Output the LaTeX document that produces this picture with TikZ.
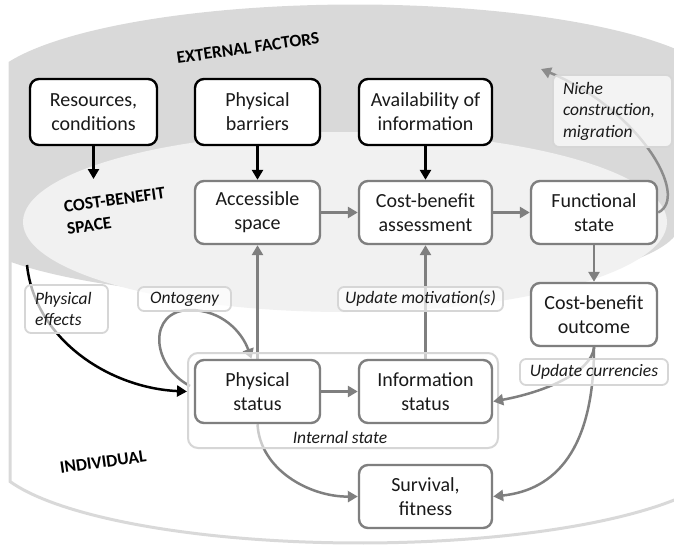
\documentclass[tikz,border=0pt]{standalone}
\usepackage{fontspec}
\setmainfont{Carlito}
\usetikzlibrary{arrows.meta}
\pgfdeclarelayer{back}
\pgfdeclarelayer{mid}
\pgfsetlayers{back,mid,main}
\definecolor{outerg}{HTML}{D9D9D9}
\definecolor{innerg}{HTML}{F1F1F1}
\definecolor{boxg}{HTML}{7F7F7F}
\definecolor{lblg}{HTML}{D6D6D6}
\definecolor{txt}{HTML}{1A1A1A}
\begin{document}
\begin{tikzpicture}[x=1pt,y=-1pt,
  bbox/.style={draw=black, line width=2.4pt, fill=white, rounded corners=9pt, align=center,
    font=\fontsize{20}{24}\selectfont, text=txt, inner sep=0pt, minimum height=66},
  gbox/.style={draw=boxg, line width=2.4pt, fill=white, rounded corners=9pt, align=center,
    font=\fontsize{20}{24}\selectfont, text=txt, inner sep=0pt, minimum height=63},
  lbl/.style={draw=lblg, line width=1.8pt, rounded corners=6pt, fill=white, fill opacity=0.7,
    text opacity=1, text=txt, font=\itshape\fontsize{17.5}{21.5}\selectfont, inner sep=0pt},
  bold/.style={font=\bfseries\fontsize{17.5}{22}\selectfont, text=black, rotate=8, inner sep=0pt},
  garrow/.style={draw=boxg, line width=2.5pt, -{Triangle[length=10pt,width=11pt]}},
  barrow/.style={draw=black, line width=2.5pt, -{Triangle[length=10pt,width=11pt]}}
]
\useasboundingbox (0,0) rectangle (674,546);

% ---------------- main boxes ----------------
\node[bbox, minimum width=127] (res) at (93.5,112) {Resources,\\conditions};
\node[bbox, minimum width=125] (bar) at (257.5,112) {Physical\\barriers};
\node[bbox, minimum width=133] (avail) at (425.5,112) {Availability of\\information};
\node[gbox, minimum width=125] (acc) at (257.5,212.5) {Accessible\\space};
\node[gbox, minimum width=133] (cba) at (425.5,212.5) {Cost-benefit\\assessment};
\node[gbox, minimum width=126] (func) at (594,212.5) {Functional\\state};
\node[gbox, minimum width=126] (outc) at (594,314.5) {Cost-benefit\\outcome};
\node[gbox, minimum width=125] (phys) at (257.5,391.5) {Physical\\status};
\node[gbox, minimum width=133] (info) at (425.5,391.5) {Information\\status};
\node[gbox, minimum width=133] (surv) at (425.5,496.5) {Survival,\\fitness};

\coordinate (resend) at (93.5,179);
\coordinate (pestart) at (27,265);
\coordinate (ontostart) at (190,386);
\coordinate (nicheend) at (541,69);

% ---------------- background ----------------
\begin{pgfonlayer}{back}
\path[fill=white, draw=outerg, line width=3pt]
  plot[domain=21.2:158.8, samples=80] ({355-370*cos(\x)},{95-89*sin(\x)})
  -- (700,488)
  -- plot[domain=23.2:161, samples=80] ({360+370*cos(\x)},{452+91*sin(\x)})
  -- cycle;
\begin{scope}
\clip plot[domain=21.2:158.8, samples=80] ({355-370*cos(\x)},{95-89*sin(\x)})
  -- (700,488)
  -- plot[domain=23.2:161, samples=80] ({360+370*cos(\x)},{452+91*sin(\x)})
  -- cycle;
\fill[outerg] (0,0) rectangle (700,223);
\fill[outerg] (320,223) ellipse [x radius=360, y radius=76];
\end{scope}
\fill[innerg] (345,222) ellipse [x radius=322, y radius=90];

% arrows that pass under the internal-state frame
\draw[garrow] (phys.north) -- (acc.south);
\draw[garrow] (info.north) -- (cba.south);
\draw[garrow] (phys.south) .. controls (260,470) and (310,497) .. (surv.west);
\draw[garrow] (ontostart) .. controls (150,365) and (148,310) .. (190,310)
  .. controls (222,310) and (242,332) .. ([xshift=-6pt]phys.north);
\end{pgfonlayer}

\begin{pgfonlayer}{mid}
\node[draw=lblg, line width=2pt, rounded corners=10pt, fill=white, fill opacity=0.6,
  minimum width=310, minimum height=95, inner sep=0pt] (cont) at (343,400.5) {};
\end{pgfonlayer}

% ---------------- connectors ----------------
\draw[barrow] (res.south) -- (resend);
\draw[barrow] (bar.south) -- (acc.north);
\draw[barrow] (avail.south) -- (cba.north);
\draw[garrow] (acc.east) -- (cba.west);
\draw[garrow] (cba.east) -- (func.west);
\draw[garrow] (func.south) -- (outc.north);
\draw[garrow] (phys.east) -- (info.west);
\draw[garrow] (outc.south) .. controls (592,372) and (545,392) .. ([yshift=-10pt]info.east);
\draw[garrow] (outc.south) .. controls (594,450) and (555,490) .. (surv.east);
\draw[garrow, draw=boxg!90] (func.east) .. controls (690,197) and (640,110) .. (nicheend);
\draw[barrow] (pestart) .. controls (35,340) and (110,388) .. (cont.west |- phys.west);

% ---------------- labels ----------------
\node[lbl, minimum width=119, minimum height=72, text width=99, align=left] (niche) at (612.5,111) {Niche\\construction,\\migration};
\node[lbl, minimum width=83, minimum height=48, text width=63, align=left] (pe) at (66.5,309) {Physical\\effects};
\node[lbl, minimum width=93, minimum height=24] (onto) at (184.5,299) {Ontogeny};
\node[lbl, minimum width=165, minimum height=24] (updm) at (420.5,299) {Update motivation(s)};
\node[lbl, minimum width=148, minimum height=26] (updc) at (594,372) {Update currencies};
\node[font=\itshape\fontsize{17.5}{21}\selectfont, text=txt] (intl) at (340,437) {Internal state};

\node[bold] (ext) at (248,48) {EXTERNAL FACTORS};
\node[bold, align=left] (cbs) at (116,211) {COST-BENEFIT\\SPACE};
\node[bold] (ind) at (103,462) {INDIVIDUAL};
\end{tikzpicture}
\end{document}
